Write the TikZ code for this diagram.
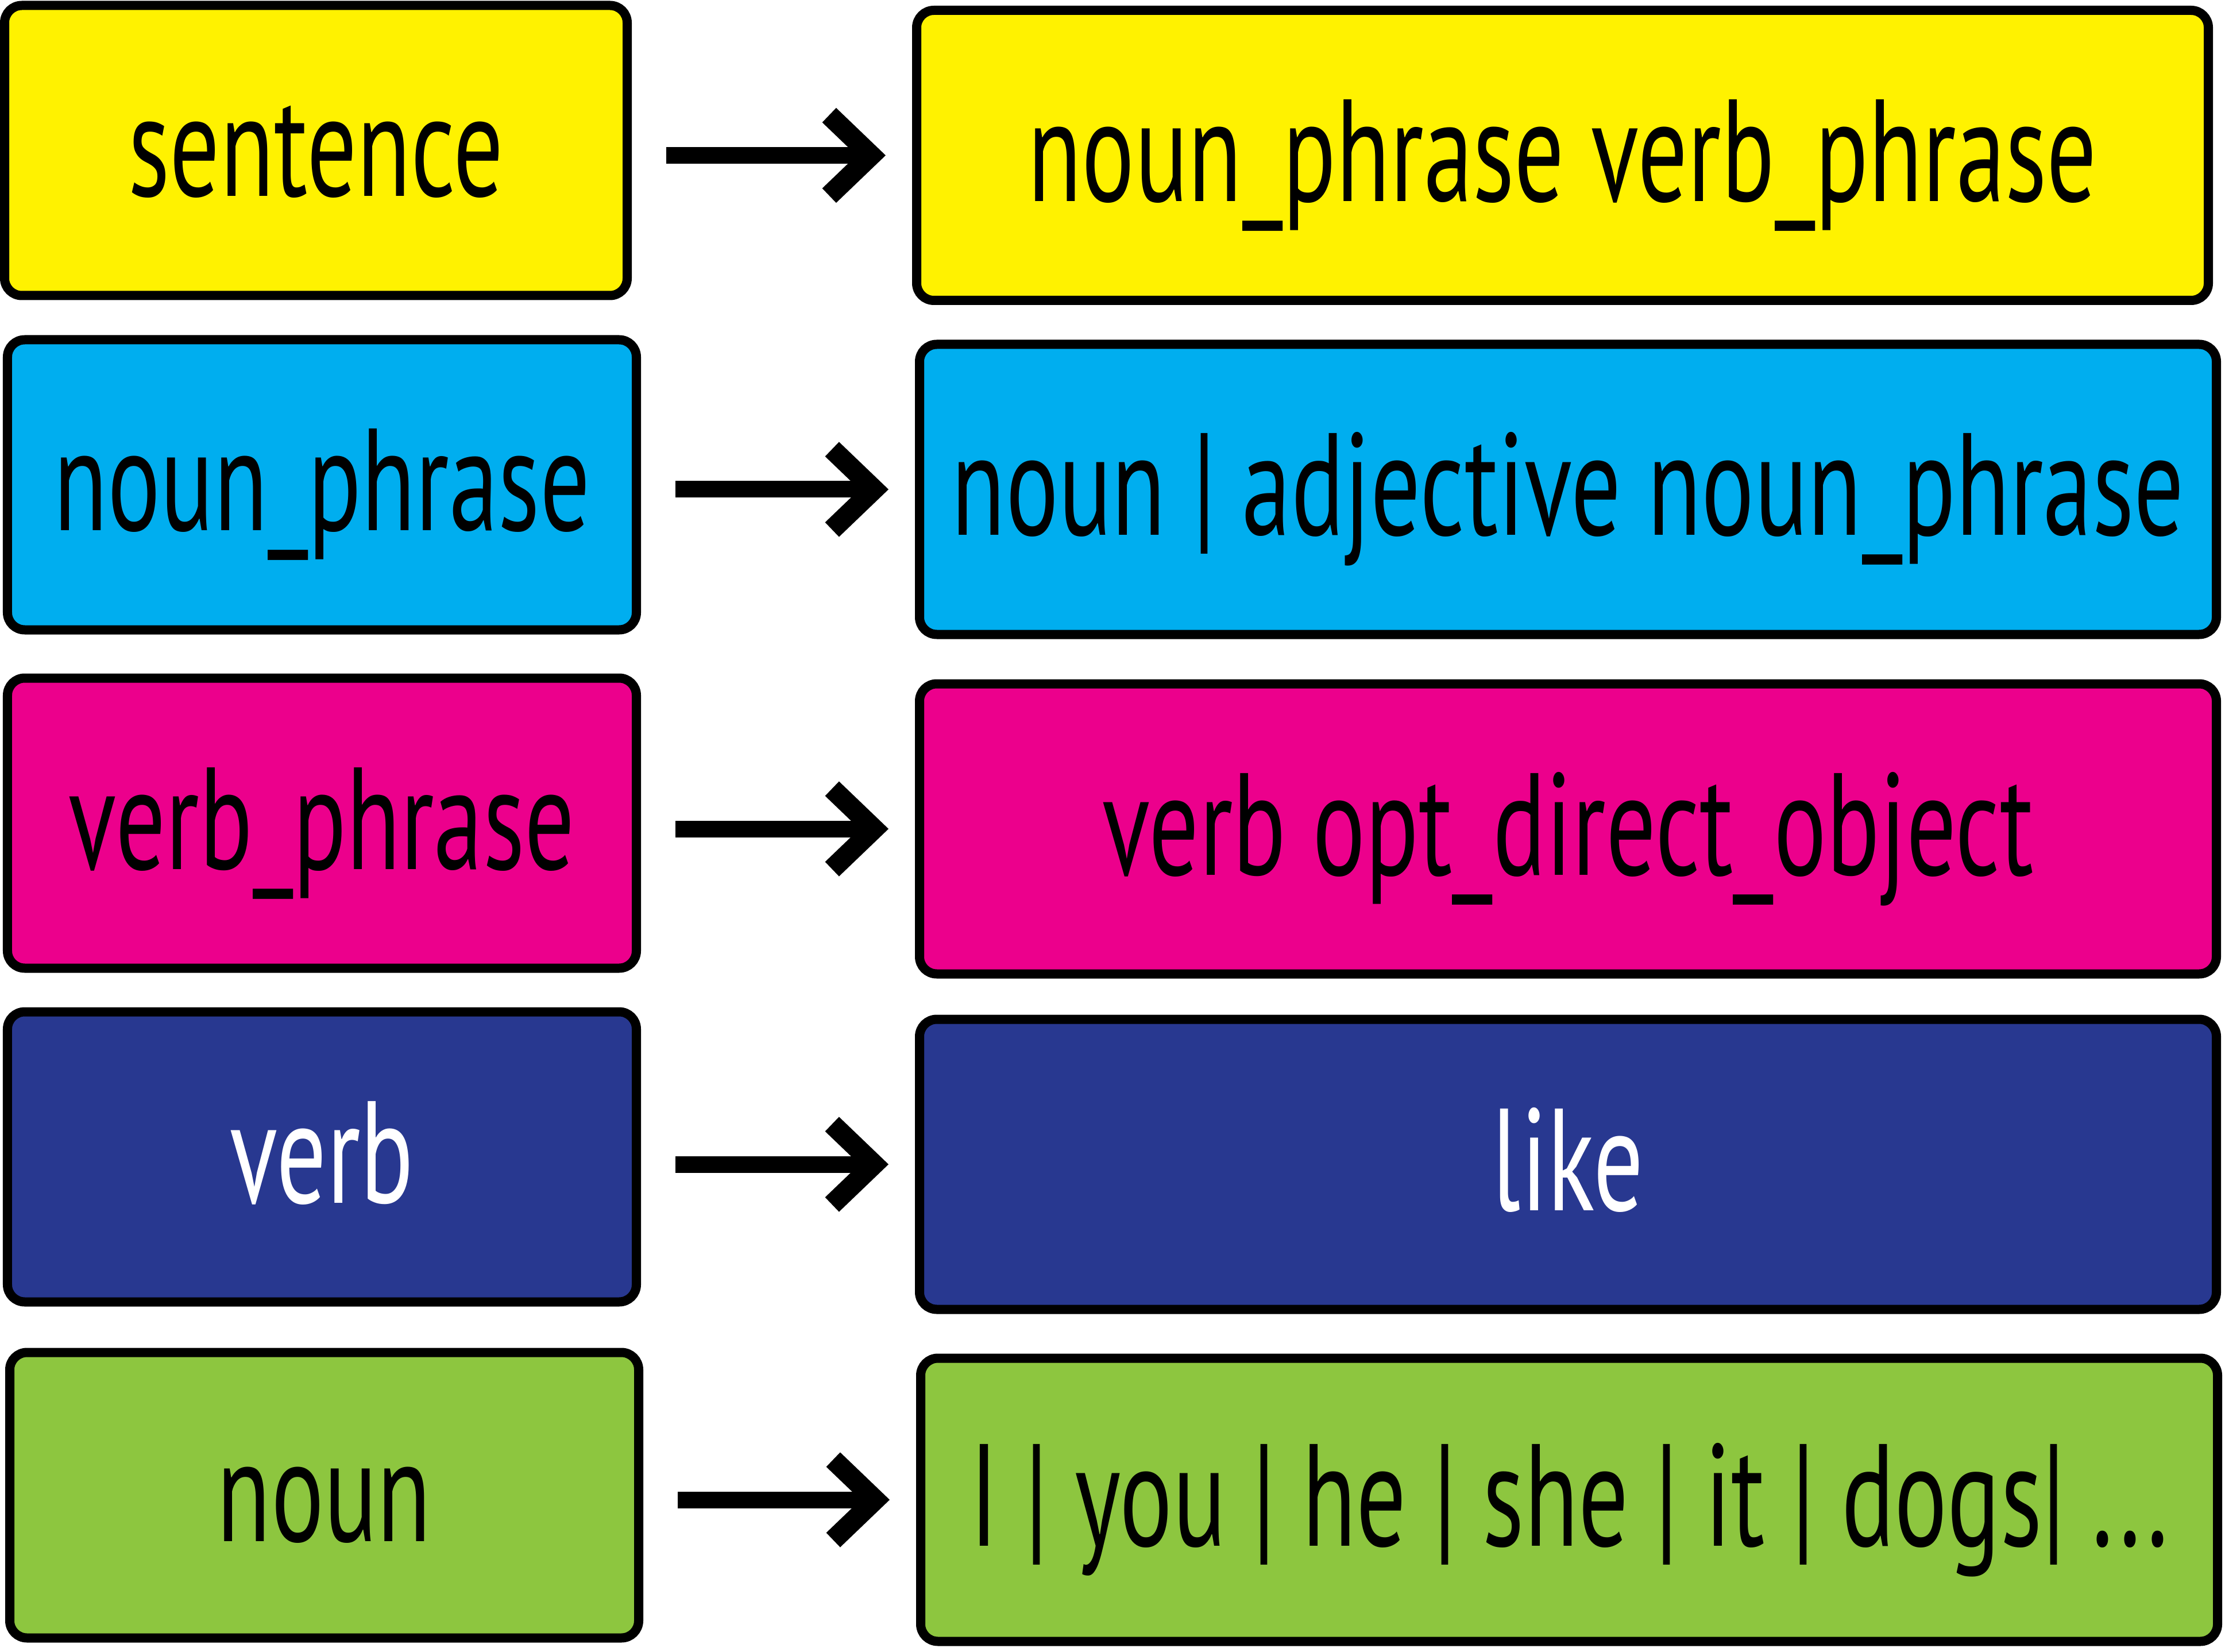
\documentclass[tikz,border=0pt]{standalone}
\usepackage{fontspec}
\setmainfont[FakeStretch=0.68]{PT Sans}
\usepackage{tikz}
\usetikzlibrary{arrows.meta, positioning}
\definecolor{ruleyellow}{RGB}{255, 242, 0}
\definecolor{rulecyan}{RGB}{0, 174, 239}
\definecolor{rulemagenta}{RGB}{236, 0, 140}
\definecolor{rulenavy}{RGB}{40, 56, 144}
\definecolor{rulegreen}{RGB}{141, 198, 63}

\begin{document}
\begin{tikzpicture}[
    box/.style={draw=black, line width=0.16cm, rounded corners=0.3cm, align=center, font=\fontsize{72}{80}\selectfont, text height=1.9cm, text depth=0.3cm, minimum height=5.05cm},
    lhsBox/.style={box, minimum width=10.95cm},
    rhsBox/.style={box, minimum width=22.58cm},
    edge/.style={draw=black, line width=0.29cm, -{Straight Barb[length=0.73cm, width=1.40cm, line width'=0.35cm]}, shorten <=0.6cm, shorten >=0.46cm}
]
\useasboundingbox (0,0) rectangle (38.74,-28.76);

% Left-hand sides
\node[lhsBox, fill=ruleyellow, minimum width=10.84cm] (lhs1) at (5.50,-2.62) {sentence};
\node[lhsBox, fill=rulecyan] (lhs2) at (5.605,-8.44) {noun\_phrase};
\node[lhsBox, fill=rulemagenta] (lhs3) at (5.605,-14.33) {verb\_phrase};
\node[lhsBox, fill=rulenavy, text=white] (lhs4) at (5.605,-20.14) {verb};
\node[lhsBox, fill=rulegreen, minimum height=4.97cm] (lhs5) at (5.645,-26.03) {noun};

% Right-hand sides
\node[rhsBox, fill=ruleyellow, minimum width=22.49cm] (rhs1) at (27.205,-2.705) {noun\_phrase verb\_phrase};
\node[rhsBox, fill=rulecyan] (rhs2) at (27.30,-8.52) {noun | adjective noun\_phrase};
\node[rhsBox, fill=rulemagenta] (rhs3) at (27.30,-14.43) {verb opt\_direct\_object};
\node[rhsBox, fill=rulenavy, text=white] (rhs4) at (27.30,-20.27) {like};
\node[rhsBox, fill=rulegreen, minimum height=4.93cm] (rhs5) at (27.32,-26.11) {I | you | he | she | it | dogs| ...};

% Rewrite arrows
\draw[edge] (lhs1.east |- rhs1.west) -- (rhs1.west);
\draw[edge] (lhs2.east |- rhs2.west) -- (rhs2.west);
\draw[edge] (lhs3.east |- rhs3.west) -- (rhs3.west);
\draw[edge] (lhs4.east |- rhs4.west) -- (rhs4.west);
\draw[edge] (lhs5.east |- rhs5.west) -- (rhs5.west);

\end{tikzpicture}
\end{document}
